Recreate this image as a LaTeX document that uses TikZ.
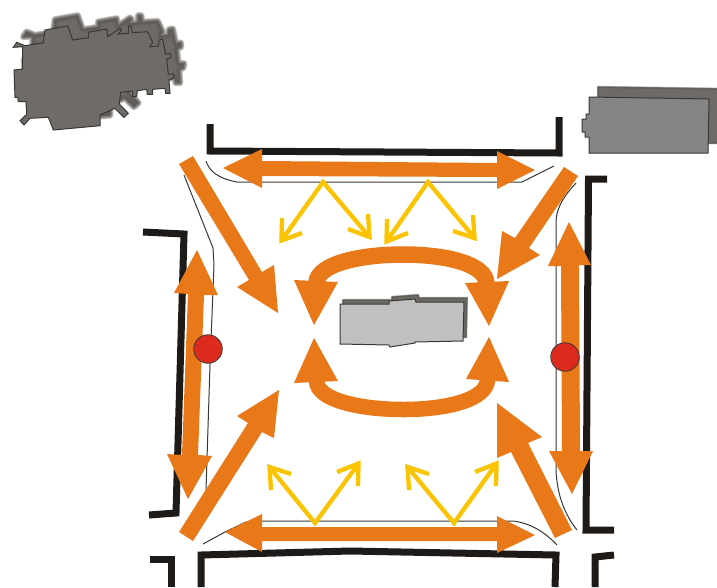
\documentclass[tikz,border=0pt]{standalone}
\definecolor{orangeA}{HTML}{E97818}
\definecolor{yellowA}{HTML}{FBC400}
\definecolor{inkA}{HTML}{1E1A17}
\definecolor{thinA}{HTML}{3A3835}
\definecolor{redA}{HTML}{DC2A1E}
\definecolor{blobA}{HTML}{6E6B68}
\definecolor{shadeA}{HTML}{5F5B57}
\definecolor{bldgA}{HTML}{858585}
\definecolor{coreA}{HTML}{C0C0C0}
\tikzset{
  wall/.style={draw=inkA,line width=7pt,line join=miter},
  street/.style={draw=thinA,line width=1pt,line join=round},
  flow/.style={fill=orangeA,draw=none},
  ring/.style={draw=orangeA,line cap=butt},
  ray/.style={draw=yellowA,line width=4.3pt,line join=miter,miter limit=20},
  pin/.style={draw=thinA,fill=redA,line width=0.8pt},
  outline/.style={draw=thinA,line width=1pt,line join=miter}
}
% soft shadow: path, shift x, shift y, spread
\newcommand{\softshade}[4]{%
  \begin{scope}[shift={(#2,#3)}]
    \foreach \k in {1,0.875,0.75,0.625,0.5,0.375,0.25,0.125,0}{
      \path[draw=shadeA,fill=shadeA,line join=round,opacity=0.22,line width=\k*#4 pt] #1;
    }
  \end{scope}}
\def\blobpath{(13.3,47.3)--(16.7,42.3)--(25,45.7)--(43.3,42.7)--(45,30)--(67.7,26)--(72.7,40)--(88.3,37.7)--(88.3,32.3)--(106.7,29)--(107.7,36.7)--(120,28.3)--(121.7,30)--(118.3,34)--(128.3,33.3)--(128.3,26)--(131,26)--(132.3,32.7)--(147.7,31.7)--(152.7,42.3)--(150,46.7)--(158.3,46)--(159,40)--(162.7,39.3)--(165.7,54.3)--(170.7,53.3)--(171,57.3)--(166.7,59.3)--(168.3,74)--(174,74)--(173.3,78.3)--(169,80)--(170,93.3)--(165.7,93.3)--(165,88.3)--(152.7,89.3)--(152.7,94.3)--(147.3,94.3)--(146.7,89.3)--(137.3,90.7)--(136.7,96.7)--(132.7,96.7)--(132.3,91)--(120.7,92.3)--(119.3,104)--(128.3,113.3)--(124,117.3)--(115,108.3)--(100,115)--(100,125.7)--(53.3,130)--(51.7,125.7)--(48.3,117.3)--(30,118.3)--(24,125)--(20,120.7)--(26.7,114.3)--(26,101.7)--(18.3,101.7)--(17.7,97.3)--(15,97.3)--(14,70)--(22.7,69)--(22.7,46.7)--cycle}
\def\bldgpath{(589,97)--(709,99)--(708,153)--(589,153)--(589,137)--(585,137)--(585,132)--(582,132)--(582,119)--(586,119)--(586,114)--(589,114)--cycle}
\def\corepath{(340,304)--(389,304)--(389,301)--(415,299)--(416,302)--(464,302)--(463,341)--(415,342)--(415,343)--(390,347)--(389,345)--(340,344)--cycle}
\begin{document}
\begin{tikzpicture}[x=1pt,y=-1pt]
\useasboundingbox (0,0) rectangle (717,587);
\clip (0,0) rectangle (717,587);
\fill[white] (0,0) rectangle (717,587);
% neighbouring buildings
\softshade{\blobpath}{10}{-10.5}{7}
\path[outline,fill=blobA] \blobpath;
\softshade{(589,97)--(718,99)--(718,153)--(589,153)--cycle}{9}{-10}{2.5}
\path[outline,fill=bldgA] \bldgpath;
% central building
\softshade{\corepath}{3}{-4}{2.5}
\path[outline,fill=coreA] \corepath;
% street edges
\draw[street] (206,161) .. controls (209,170) and (216,178) .. (237,182) -- (522,182) -- (554,166);
\draw[street] (184,175) -- (213,248) -- (214,265) -- (210,365) -- (206,490);
\draw[street] (576,183) .. controls (566,194) and (556,206) .. (556,223) -- (556,470) .. controls (557,495) and (565,515) .. (577,530);
\draw[street] (203,544) -- (225,532) -- (246,522) -- (263,521) -- (513,521) .. controls (530,523) and (545,532) .. (557,545);
% walls
\draw[wall] (210,124) -- (210,151) -- (559,153) -- (559,117);
\draw[wall] (143,232) -- (184,234) -- (176,513) -- (149,515);
\draw[wall] (607,179) -- (588.5,179) -- (586,530) -- (614,530);
\draw[wall] (201,587) -- (201,555) -- (350,551) -- (556,555) -- (555,587);
\draw[wall] (150,559) -- (171.5,559) -- (171.5,587);
\draw[wall] (595,587) -- (595,557) -- (614,555);
% yellow rays
\draw[ray] (281.5,240.5) -- (323,182) -- (369.5,237);
\draw[ray] (282,218) -- (281.5,240.5) -- (302,233);
\draw[ray] (368,214) -- (369.5,237) -- (348,229);
\draw[ray] (386.5,241.5) -- (428,182) -- (474.5,238);
\draw[ray] (387,219) -- (386.5,241.5) -- (408,233);
\draw[ray] (473,215) -- (474.5,238) -- (453,231);
\draw[ray] (269.5,467) -- (315,523) -- (358.5,463.5);
\draw[ray] (271,490) -- (269.5,467) -- (291,474);
\draw[ray] (358,486) -- (358.5,463.5) -- (337,472);
\draw[ray] (407.5,467) -- (454,523) -- (496.5,463.5);
\draw[ray] (409,490) -- (407.5,467) -- (429,474);
\draw[ray] (496,486) -- (496.5,463.5) -- (475,472);
% orange double arrows
\fill[flow] (223,168)--(262,149)--(262,161)--(497,163)--(497,151)--(535,170)--(497,189)--(497,177)--(262,176)--(262,188)--cycle;
\fill[flow] (225,532)--(262,514)--(262,527)--(497,527)--(497,516)--(535,535)--(497,553)--(497,541)--(262,541)--(262,552)--cycle;
\fill[flow] (197,250)--(218,295)--(204,295)--(198,455)--(212,456)--(188,499)--(167,454)--(182,455)--(188,294)--(174,293)--cycle;
\fill[flow] (569,222)--(591,265)--(579,265)--(580,451)--(593,451)--(572,494)--(549,451)--(562,451)--(561,266)--(548,266)--cycle;
% orange diagonals
\fill[flow] (179,164)--(193,156)--(262,272)--(274,265)--(278,313)--(237,287)--(249,280)--cycle;
\fill[flow] (564,167)--(578,176)--(529,248)--(540,255)--(497,279)--(502,231)--(515,238)--cycle;
\fill[flow] (179,532)--(193,541)--(262,432)--(274,438)--(279,390)--(237,416)--(248,423)--cycle;
\fill[flow] (555,538)--(511,452)--(497,458)--(497,403)--(542,437)--(528,443)--(572,530)--cycle;
% orange circulation
\draw[ring,line width=16.5pt] (316.5,283) .. controls (317,264) and (360,254.5) .. (403,254.5) .. controls (446,254.5) and (486.5,264) .. (486.5,284);
\fill[flow] (294,280)--(338,282)--(314,325)--cycle;
\fill[flow] (465,283)--(509,281)--(489,326)--cycle;
\draw[ring,line width=15.5pt] (316.5,381) .. controls (317,400) and (360,409.5) .. (403,409.5) .. controls (446,409.5) and (487.5,400) .. (487.5,379);
\fill[flow] (294,383)--(338,381)--(314,338)--cycle;
\fill[flow] (466,379)--(509,382)--(489,337)--cycle;
% pins
\node[pin,circle,minimum size=28.5pt,inner sep=0pt] (pinL) at (208,349) {};
\node[pin,circle,minimum size=28.5pt,inner sep=0pt] (pinR) at (565,357) {};
\end{tikzpicture}
\end{document}
